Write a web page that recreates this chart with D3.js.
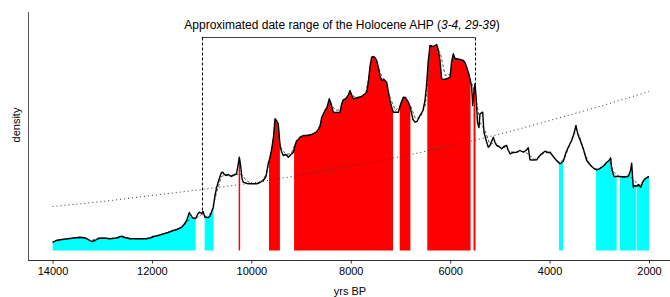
<!DOCTYPE html>
<html>
<head>
<meta charset="utf-8">
<script src="https://cdn.jsdelivr.net/npm/d3@7"></script>
<style>
  body { margin: 0; background: #fff; }
  text { font-family: "Liberation Sans", Arial, sans-serif; }
</style>
</head>
<body>
<div id="chart-container"></div>
<script>
// summed probability density (solid black line)
const years = [14000, 13930, 13850, 13650, 13450, 13345, 13286, 13211, 13145, 13079,
  12964, 12843, 12723, 12608, 12542, 12441, 12240, 12105, 12039, 11972,
  11878, 11771, 11676, 11570, 11495, 11401, 11355, 11300, 11248, 11224,
  11180, 11119, 11073, 11047, 10999, 10972, 10932, 10866, 10832, 10765,
  10731, 10697, 10661, 10630, 10600, 10576, 10540, 10496, 10463, 10409,
  10349, 10298, 10268, 10242, 10218, 10188, 10162, 10087, 10027, 9892,
  9826, 9759, 9705, 9659, 9625, 9590, 9554, 9524, 9494, 9458,
  9438, 9423, 9393, 9357, 9303, 9256, 9202, 9156, 9122, 9087,
  9051, 9021, 8955, 8860, 8754, 8679, 8619, 8584, 8518, 8478,
  8432, 8397, 8351, 8277, 8216, 8186, 8150, 8096, 8045, 8015,
  7985, 7949, 7894, 7814, 7754, 7679, 7643, 7613, 7579, 7542,
  7512, 7478, 7446, 7412, 7377, 7331, 7277, 7241, 7211, 7180,
  7144, 7043, 6999, 6943, 6899, 6842, 6808, 6774, 6748, 6708,
  6667, 6607, 6547, 6506, 6476, 6440, 6406, 6345, 6271, 6235,
  6205, 6171, 6124, 6070, 6003, 5973, 5937, 5903, 5869, 5802,
  5736, 5702, 5667, 5621, 5567, 5547, 5521, 5501, 5480, 5450,
  5420, 5400, 5346, 5320, 5265, 5233, 5199, 5132, 5098, 5064,
  5018, 4963, 4917, 4863, 4837, 4796, 4736, 4662, 4595, 4529,
  4475, 4428, 4394, 4334, 4259, 4213, 4159, 4092, 4032, 3992,
  3941, 3891, 3841, 3791, 3724, 3670, 3624, 3555, 3509, 3469,
  3449, 3422, 3368, 3322, 3254, 3207, 3153, 3107, 3052, 3006,
  2952, 2905, 2851, 2805, 2771, 2751, 2704, 2644, 2584, 2503,
  2417, 2372, 2348, 2332, 2316, 2282, 2248, 2211, 2167, 2121,
  2081, 2041, 2000];
const density = [8, 10, 10.7, 12, 13.3, 12.7, 11, 9, 10, 12.3,
  12.5, 11.7, 12.5, 14.3, 13, 11.7, 11.7, 11.7, 12.5, 14,
  15, 16.7, 18, 20, 21, 23.3, 26, 30, 38, 36,
  32.5, 32, 37, 38.3, 37, 39, 33.3, 33, 34.5, 43.3,
  55, 63.3, 69, 74, 78, 78.3, 76, 75, 76, 74,
  75.5, 76.7, 85, 93.3, 86, 72, 68.3, 67, 66.7, 66.7,
  68, 70, 74, 87, 93, 101.7, 114, 131.7, 130, 126.7,
  115, 105, 99, 95, 96, 93.3, 96, 98, 105, 110,
  111, 113.3, 115, 115, 116.7, 119, 124, 133.3, 140, 143,
  151.7, 147, 138.3, 138, 138.3, 146, 150.7, 152, 156, 160,
  156, 151.7, 152.5, 153.3, 155, 158.3, 170, 184, 193.3, 194,
  193, 190, 183.3, 175, 170, 171, 168.3, 158, 150, 144,
  138.3, 138.3, 146, 153.3, 153, 148.3, 144, 136.7, 131, 128.3,
  129, 135, 140, 150, 165, 190, 205, 204, 206, 200,
  190, 171.7, 171, 171.7, 173.3, 188, 196.7, 192, 191.7, 191,
  190, 188, 183.3, 176, 163.3, 145, 160, 166.7, 155, 128,
  123, 136.7, 138.3, 118.3, 108.3, 103.3, 105, 113.3, 108, 105,
  104, 101.7, 104, 105, 101, 96.7, 98, 98.3, 100, 98.3,
  100, 102.7, 90.7, 90.5, 90.7, 94, 96.7, 99.3, 98, 98.3,
  95, 91.7, 89, 86.7, 89.3, 98, 103.3, 110, 117, 125,
  120, 115, 108, 101.7, 90, 87, 84, 82, 80.7, 81.5,
  83.3, 85, 88.3, 90, 92.7, 81.7, 74, 74, 74, 73.5,
  74, 80, 87.3, 75, 63.3, 65, 64, 66, 63.3, 69,
  71.7, 73, 74];

// grey dashed curve
const dashYears = [14000, 13800, 13600, 13400, 13200, 13000, 12800, 12600, 12400, 12200,
  12000, 11800, 11600, 11400, 11300, 11200, 11100, 11000, 10900, 10800,
  10700, 10600, 10500, 10400, 10300, 10200, 10100, 10000, 9900, 9800,
  9700, 9600, 9500, 9400, 9300, 9200, 9100, 9000, 8800, 8700,
  8600, 8500, 8400, 8300, 8200, 8100, 8000, 7900, 7800, 7700,
  7600, 7500, 7400, 7300, 7200, 7100, 7000, 6900, 6800, 6700,
  6600, 6500, 6400, 6300, 6200, 6100, 6000, 5900, 5800, 5700,
  5600, 5500, 5400, 5300, 5200, 5100, 5000, 4900, 4800, 4700,
  4600, 4500, 4400, 4300, 4200, 4100, 4000, 3900, 3800, 3700,
  3600, 3500, 3400, 3300, 3200, 3100, 3000, 2900, 2800, 2700,
  2600, 2500, 2400, 2300, 2200, 2100, 2000];
const dashDensity = [8.5, 11, 12.5, 12.5, 10.5, 12, 12, 13, 12, 11.8,
  12.8, 16, 19.5, 23, 28, 33, 33, 36, 34, 38,
  58, 74, 76, 75, 76, 76, 70, 67, 67, 69,
  76, 98, 122, 102, 96, 97, 108, 114, 116, 118,
  127, 141, 146, 140, 141, 150, 156, 153, 154, 157,
  182, 191, 177, 168, 152, 140, 145, 152, 145, 132,
  133, 145, 195, 203, 198, 175, 176, 192, 190, 187,
  172, 158, 128, 120, 106, 108, 103, 103, 99, 98,
  99, 99, 95, 91, 94, 98, 98, 93, 88, 92,
  105, 118, 115, 98, 87, 82, 81, 85, 90, 78,
  74, 74, 75, 70, 65, 70, 74];

// dotted null model
const nullYears = [14000, 13000, 12000, 11000, 10000, 9000, 8000, 7000, 6000, 5000, 4000, 3000, 2000];
const nullDensity = [44, 49, 55, 61, 67.5, 75.5, 84.5, 94, 104.5, 116.5, 130, 144, 159];

// periods above (red) and below (cyan) the envelope, [from, to] yrs BP
const redRanges = [[10255, 10225], [9645, 9425], [9140, 7150], [7015, 6800], [6460, 5590], [5530, 5490]];
const cyanRanges = [[14000, 11120], [10940, 10760], [3810, 3730], [3065, 2650], [2590, 2255], [2242, 2000]];

const ahpRange = [11000, 5500];
const titleMain = "Approximated date range of the Holocene AHP (";
const titleRefs = "3-4, 29-39";
const xTicks = [14000, 12000, 10000, 8000, 6000, 4000, 2000];

const width = 670;
const height = 297;

const x = d3.scaleLinear().domain([14000, 2000]).range([52.5, 649]);
const y = d3.scaleLinear().domain([0, 210]).range([250.5, 40.5]);

const spd = years.map((yr, i) => ({ year: yr, v: density[i] }));
const dash = dashYears.map((yr, i) => ({ year: yr, v: dashDensity[i] }));
const nul = nullYears.map((yr, i) => ({ year: yr, v: nullDensity[i] }));

const svg = d3.create("svg")
  .attr("width", width)
  .attr("height", height)
  .attr("viewBox", [0, 0, width, height]);

// clip paths for the coloured periods
const defs = svg.append("defs");
function addClip(id, ranges) {
  defs.append("clipPath").attr("id", id)
    .selectAll("rect")
    .data(ranges)
    .join("rect")
    .attr("x", d => x(d[0]))
    .attr("width", d => x(d[1]) - x(d[0]))
    .attr("y", 0)
    .attr("height", height);
}
addClip("clip-red", redRanges);
addClip("clip-cyan", cyanRanges);

const area = d3.area()
  .x(d => x(d.year))
  .y0(y(0))
  .y1(d => y(d.v));

svg.append("path")
  .datum(spd)
  .attr("d", area)
  .attr("fill", "#00ffff")
  .attr("clip-path", "url(#clip-cyan)");

svg.append("path")
  .datum(spd)
  .attr("d", area)
  .attr("fill", "#ff0000")
  .attr("clip-path", "url(#clip-red)");

const line = d3.line()
  .x(d => x(d.year))
  .y(d => y(d.v));

// dotted exponential null model
svg.append("path")
  .datum(nul)
  .attr("d", line.curve(d3.curveMonotoneX)(nul))
  .attr("fill", "none")
  .attr("stroke", "#333")
  .attr("stroke-width", 1)
  .attr("stroke-dasharray", "1,3");

line.curve(d3.curveLinear);

svg.append("path")
  .datum(dash)
  .attr("d", line)
  .attr("fill", "none")
  .attr("stroke", "#555")
  .attr("stroke-width", 1)
  .attr("stroke-dasharray", "3,2");

svg.append("path")
  .datum(spd)
  .attr("d", line)
  .attr("fill", "none")
  .attr("stroke", "#000")
  .attr("stroke-width", 1.4)
  .attr("stroke-linejoin", "round");

// AHP bracket
const valueAt = yr => {
  const i = spd.findIndex(d => d.year <= yr);
  const a = spd[i - 1], b = spd[i];
  const t = (a.year - yr) / (a.year - b.year);
  return a.v + t * (b.v - a.v);
};
const bracketY = 37.5;
svg.append("line")
  .attr("x1", x(ahpRange[0])).attr("x2", x(ahpRange[1]))
  .attr("y1", bracketY).attr("y2", bracketY)
  .attr("stroke", "#444").attr("stroke-width", 1);
svg.append("g")
  .selectAll("line")
  .data(ahpRange)
  .join("line")
  .attr("x1", d => Math.round(x(d)) + 0.5)
  .attr("x2", d => Math.round(x(d)) + 0.5)
  .attr("y1", bracketY)
  .attr("y2", d => y(valueAt(d)))
  .attr("stroke", "#000")
  .attr("stroke-width", 1)
  .attr("stroke-dasharray", "3,2");

const title = svg.append("text")
  .attr("x", 342)
  .attr("y", 29)
  .attr("text-anchor", "middle")
  .attr("font-size", "12px")
  .attr("fill", "#000");
title.append("tspan").text(titleMain);
title.append("tspan").attr("font-style", "italic").text(titleRefs);
title.append("tspan").text(")");

// axes
svg.append("g")
  .attr("transform", "translate(0,260.5)")
  .call(d3.axisBottom(x).tickValues(xTicks).tickSize(3).tickPadding(4).tickFormat(d3.format("d")))
  .call(g => g.select(".domain").remove())
  .call(g => g.selectAll("text").attr("font-size", "11px").attr("font-family", "Liberation Sans, Arial, sans-serif").attr("fill", "#000"))
  .call(g => g.selectAll(".tick line").attr("stroke", "#333"));

svg.append("line")
  .attr("x1", 28).attr("x2", 670)
  .attr("y1", 260.5).attr("y2", 260.5)
  .attr("stroke", "#333");

svg.append("line")
  .attr("x1", 28.5).attr("x2", 28.5)
  .attr("y1", 12).attr("y2", 260.5)
  .attr("stroke", "#555");

svg.append("text")
  .attr("x", 350)
  .attr("y", 295)
  .attr("text-anchor", "middle")
  .attr("font-size", "11px")
  .text("yrs BP");

svg.append("text")
  .attr("transform", "translate(20,125) rotate(-90)")
  .attr("text-anchor", "middle")
  .attr("font-size", "11px")
  .text("density");

document.getElementById("chart-container").appendChild(svg.node());
</script>
</body>
</html>
